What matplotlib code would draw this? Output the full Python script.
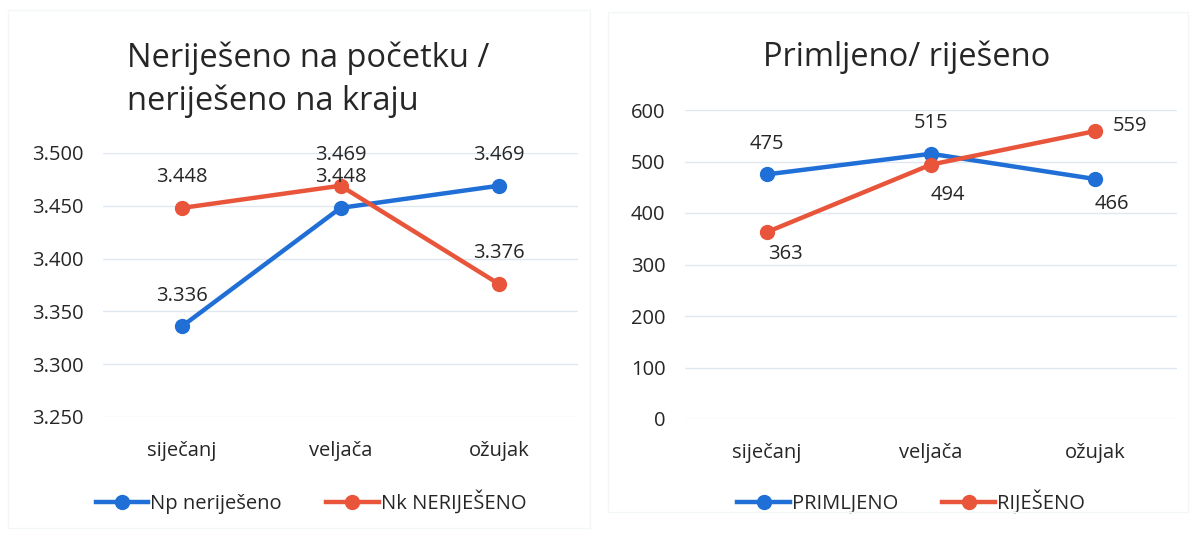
import matplotlib.pyplot as plt
from matplotlib.patches import Rectangle

plt.rcParams['font.family'] = ['Open Sans', 'DejaVu Sans']

mjeseci = ['siječanj', 'veljača', 'ožujak']

# lijevi graf (vrijednosti u tisućama s točkom kao separatorom)
np_nerijeseno = [3336, 3448, 3469]
nk_nerijeseno = [3448, 3469, 3376]
lijevi_yticks = [3250, 3300, 3350, 3400, 3450, 3500]

# desni graf
primljeno = [475, 515, 466]
rijeseno = [363, 494, 559]
desni_yticks = [0, 100, 200, 300, 400, 500, 600]

plava = '#1f6fd6'
narancasta = '#e8553a'
grid_boja = '#dfe8f0'
tekst = '#262626'
fs = 14.5

W, H = 1194, 535
fig = plt.figure(figsize=(W / 100, H / 100), dpi=100)

# okviri oko grafova (blijedi)
fig.patches.append(Rectangle((8 / W, 1 - 528 / H), 582 / W, 518 / H, transform=fig.transFigure,
                             fill=False, edgecolor='#f3f6f9', linewidth=1))
fig.patches.append(Rectangle((608 / W, 1 - 512 / H), 580 / W, 500 / H, transform=fig.transFigure,
                             fill=False, edgecolor='#f3f6f9', linewidth=1))


def fmt_tocka(v):
    return f'{v:,}'.replace(',', '.')


def uredi_os(ax, yticks, fmt):
    ax.set_xlim(-0.5, 2.5)
    ax.set_ylim(yticks[0], yticks[-1])
    ax.set_yticks(yticks)
    ax.set_yticklabels([fmt(t) for t in yticks], fontsize=fs, color=tekst)
    ax.set_xticks(range(len(mjeseci)))
    ax.set_xticklabels(mjeseci, fontsize=fs, color=tekst)
    ax.tick_params(length=0, pad=14)
    ax.tick_params(axis='x', pad=17)
    for s in ax.spines.values():
        s.set_visible(False)
    ax.grid(axis='y', color=grid_boja, linewidth=1)
    ax.set_axisbelow(True)


# lijevi
ax1 = fig.add_axes([103 / W, 1 - 417 / H, 475 / W, 264 / H])
uredi_os(ax1, lijevi_yticks, fmt_tocka)
ax1.plot(range(3), np_nerijeseno, color=plava, linewidth=3.2, marker='o', markersize=10,
         label='Np neriješeno')
ax1.plot(range(3), nk_nerijeseno, color=narancasta, linewidth=3.2, marker='o', markersize=10,
         label='Nk NERIJEŠENO')
for i, v in enumerate(np_nerijeseno):
    ax1.annotate(fmt_tocka(v), (i, v), xytext=(0, 22), textcoords='offset points',
                 ha='center', va='center', fontsize=fs, color=tekst)
for i, v in enumerate(nk_nerijeseno):
    ax1.annotate(fmt_tocka(v), (i, v), xytext=(0, 22), textcoords='offset points',
                 ha='center', va='center', fontsize=fs, color=tekst)
fig.text(127 / W, 1 - 58 / H, 'Neriješeno na početku /', fontsize=23.5, color=tekst,
         ha='left', va='center')
fig.text(127 / W, 1 - 101 / H, 'neriješeno na kraju', fontsize=23.5, color=tekst,
         ha='left', va='center')
ax1.legend(loc='center', bbox_to_anchor=(311 / W, 1 - 502 / H), bbox_transform=fig.transFigure,
           ncol=2, frameon=False, fontsize=fs, handlelength=2.6, handletextpad=0.1,
           columnspacing=2.2, labelcolor=tekst)

# desni
ax2 = fig.add_axes([685 / W, 1 - 419 / H, 492 / W, 309 / H])
uredi_os(ax2, desni_yticks, str)
ax2.plot(range(3), primljeno, color=plava, linewidth=3.2, marker='o', markersize=10,
         label='PRIMLJENO')
ax2.plot(range(3), rijeseno, color=narancasta, linewidth=3.2, marker='o', markersize=10,
         label='RIJEŠENO')
pomaci_p = [(0, 22), (0, 22), (12, -18)]
pomaci_r = [(13, -16), (12, -22), (25, 4)]
for i, v in enumerate(primljeno):
    ax2.annotate(str(v), (i, v), xytext=pomaci_p[i], textcoords='offset points',
                 ha='center', va='center', fontsize=fs, color=tekst)
for i, v in enumerate(rijeseno):
    ax2.annotate(str(v), (i, v), xytext=pomaci_r[i], textcoords='offset points',
                 ha='center', va='center', fontsize=fs, color=tekst)
fig.text(907 / W, 1 - 57 / H, 'Primljeno/ riješeno', fontsize=23.5, color=tekst,
         ha='center', va='center')
ax2.legend(loc='center', bbox_to_anchor=(911 / W, 1 - 502 / H), bbox_transform=fig.transFigure,
           ncol=2, frameon=False, fontsize=fs, handlelength=2.6, handletextpad=0.1,
           columnspacing=2.2, labelcolor=tekst)

fig.savefig('out.png', dpi=100)
